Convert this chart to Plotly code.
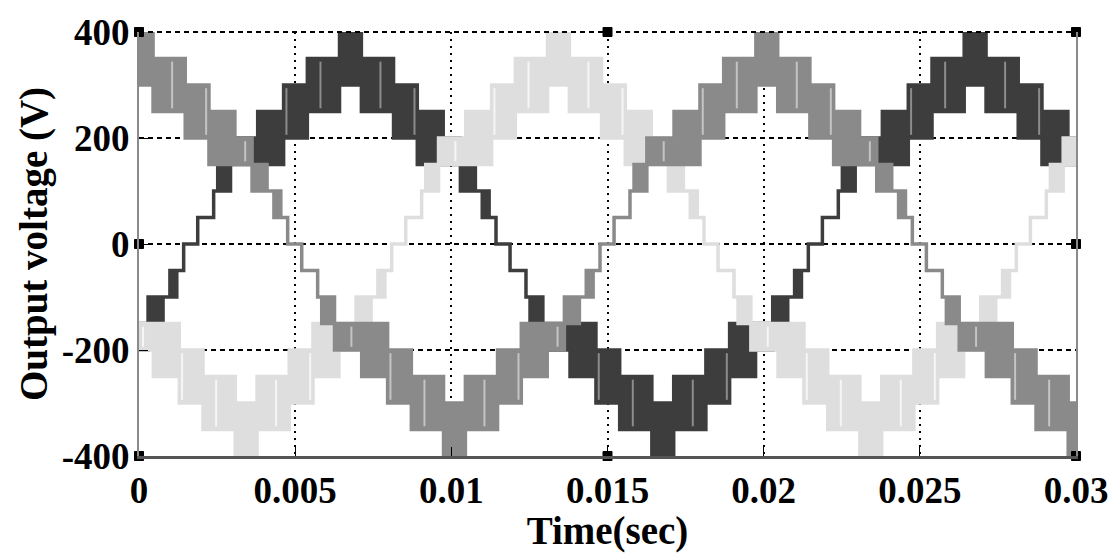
import plotly.graph_objects as go

# ---- axis ticks -------------------------------------------------------------
x_ticks = [0, 0.005, 0.01, 0.015, 0.02, 0.025, 0.03]
x_tick_labels = ["0", "0.005", "0.01", "0.015", "0.02", "0.025", "0.03"]
y_ticks = [-400, -200, 0, 200, 400]
y_tick_labels = ["-400", "-200", "0", "200", "400"]

# ---- one positive half-cycle of the multilevel output ----
# segment edges in ms relative to the crest; each segment switches between low and high level (V)
half_edges_ms = [-5.56, -5.34, -4.89, -4.38, -4.25, -3.84, -2.97, -2.14, -1.38,
                 -0.35, 0.35, 1.38, 2.14, 2.97, 3.52, 4.00, 4.22, 4.44]
half_low_v = [-50, 0, 50, 100, 100, 150, 150, 200, 250, 300, 250, 200, 150, 150, 100, 100, 50]
half_high_v = [-50, 0, 50, 100, 150, 200, 250, 300, 350, 400, 350, 300, 250, 200, 150, 100, 100]
# lighter PWM stripes seen inside the bands (ms relative to the crest)
stripe_ms = [-3.30, -2.05, -0.96, 0.96, 2.05, 3.30]

period_s = 0.02
phase_names = ["Va", "Vc", "Vb"]          # drawing order
phase_crest_s = [0.00677, 0.01343, 0.00010]
phase_colors = ["#3d3d3d", "#dedede", "#8a8a8a"]
stripe_colors = ["#8c8c8c", "#f6f6f6", "#c4c4c4"]

# MATLAB selection handles around the axes
handle_t = [0, 0.015, 0.03, 0, 0.03, 0, 0.015, 0.03]
handle_v = [400, 400, 400, 0, 0, -400, -400, -400]


def phase_segments(crest):
    segs = []
    stripes = []
    for k in range(-2, 3):
        for half, sign in ((0, 1), (1, -1)):
            c = crest + k * period_s + half * period_s / 2
            for i in range(len(half_low_v)):
                t0 = c + half_edges_ms[i] / 1000
                t1 = c + half_edges_ms[i + 1] / 1000
                if sign > 0:
                    lo, hi = half_low_v[i], half_high_v[i]
                else:
                    lo, hi = -half_high_v[i], -half_low_v[i]
                segs.append((t0, t1, lo, hi))
                for s in stripe_ms:
                    ts = c + s / 1000
                    if t0 < ts < t1 and hi > lo:
                        stripes.append((ts, lo, hi))
    segs.sort()
    segs = [s for s in segs if s[1] > -0.001 and s[0] < 0.031]
    return segs, stripes


def polygon(segs):
    ux, uy, lx, ly = [], [], [], []
    for t0, t1, lo, hi in segs:
        ux += [t0, t1]
        uy += [hi, hi]
        lx += [t0, t1]
        ly += [lo, lo]
    return ux + lx[::-1], uy + ly[::-1]


fig = go.Figure()
for name, crest, col, scol in zip(phase_names, phase_crest_s, phase_colors, stripe_colors):
    segs, stripes = phase_segments(crest)
    xs, ys = polygon(segs)
    fig.add_trace(go.Scatter(x=xs, y=ys, mode="lines", fill="toself", fillcolor=col,
                             line=dict(color=col, width=3.5), name=name,
                             showlegend=False, hoverinfo="skip"))
    sx, sy = [], []
    for ts, lo, hi in stripes:
        sx += [ts, ts, None]
        sy += [lo + 6, hi - 6, None]
    fig.add_trace(go.Scatter(x=sx, y=sy, mode="lines", line=dict(color=scol, width=2),
                             showlegend=False, hoverinfo="skip"))

fig.add_trace(go.Scatter(x=handle_t, y=handle_v, mode="markers",
                         marker=dict(symbol="square", size=9, color="black",
                                     line=dict(color="black", width=1)),
                         cliponaxis=False, showlegend=False, hoverinfo="skip"))

font_family = "Liberation Serif"
fig.update_layout(
    width=1120, height=553,
    margin=dict(l=139, r=43, t=20, b=94),
    paper_bgcolor="white", plot_bgcolor="white",
    font=dict(family=font_family, color="black"),
)
fig.update_xaxes(
    range=[0, 0.03], tickvals=x_ticks, ticktext=x_tick_labels,
    tickfont=dict(family=font_family, size=37, color="black", weight="bold"),
    ticklabeloverflow="allow",
    showgrid=True, gridcolor="black", gridwidth=2, griddash="2px,5px",
    showline=True, linecolor="#555555", linewidth=3, mirror=False,
    ticks="inside", ticklen=9, tickcolor="black", tickwidth=1,
    zeroline=False,
    title=dict(text="Time(sec)", font=dict(family=font_family, size=39, color="black", weight="bold"),
               standoff=2),
)
fig.update_yaxes(
    range=[-400, 400], tickvals=y_ticks, ticktext=y_tick_labels,
    tickfont=dict(family=font_family, size=37, color="black", weight="bold"),
    ticklabeloverflow="allow",
    showgrid=True, gridcolor="black", gridwidth=1.5, griddash="5px,4px",
    showline=True, linecolor="#8a8a8a", linewidth=2, mirror=True,
    ticks="inside", ticklen=9, tickcolor="black", tickwidth=1,
    zeroline=False,
    title=dict(text="Output voltage (V)", font=dict(family=font_family, size=39, color="black", weight="bold"),
               standoff=2),
)
fig.add_shape(type="line", xref="paper", yref="paper", x0=0, x1=1, y0=1, y1=1,
              line=dict(color="black", width=2, dash="5px,4px"))

fig.write_html("out.html")
